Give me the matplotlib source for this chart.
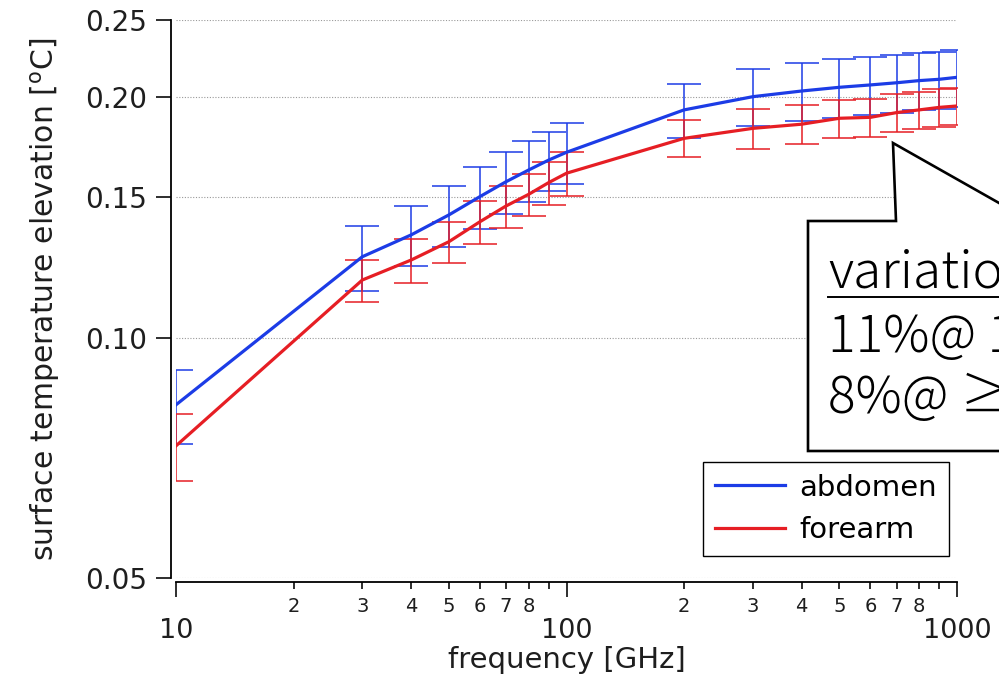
import matplotlib.pyplot as plt
from matplotlib.patches import Polygon
from matplotlib.lines import Line2D

# frequency points [GHz]
freq = [10, 30, 40, 50, 60, 70, 80, 90, 100,
        200, 300, 400, 500, 600, 700, 800, 900, 1000]

# surface temperature elevation [degC] and error bars
abdomen = [0.0824, 0.1263, 0.1345, 0.1425, 0.1502, 0.1568, 0.1622, 0.1669, 0.1707,
           0.1929, 0.2004, 0.2037, 0.2059, 0.2073, 0.2086, 0.2099, 0.2107, 0.2119]
abdomen_err = [0.0088, 0.0118, 0.0117, 0.0125, 0.0132, 0.0138, 0.0142, 0.0143, 0.0149,
               0.0150, 0.0165, 0.0169, 0.0173, 0.0172, 0.0173, 0.0173, 0.0175, 0.0174]
forearm = [0.0732, 0.1181, 0.1251, 0.1319, 0.1397, 0.1462, 0.1512, 0.1564, 0.1607,
           0.1777, 0.1829, 0.1851, 0.1883, 0.1888, 0.1914, 0.1929, 0.1943, 0.1951]
forearm_err = [0.0070, 0.0071, 0.0079, 0.0079, 0.0085, 0.0088, 0.0091, 0.0097, 0.0102,
               0.0095, 0.0104, 0.0105, 0.0102, 0.0104, 0.0105, 0.0105, 0.0105, 0.0103]

y_ticks = [0.05, 0.10, 0.15, 0.20, 0.25]
y_labels = ['0.05', '0.10', '0.15', '0.20', '0.25']
x_major = [10, 100, 1000]
x_major_labels = ['10', '100', '1000']
x_minor = [20, 30, 40, 50, 60, 70, 80, 90, 200, 300, 400, 500, 600, 700, 800, 900]
x_minor_labels = ['2', '3', '4', '5', '6', '7', '8', '',
                  '2', '3', '4', '5', '6', '7', '8', '']

blue = '#1c3ce6'
red = '#e61e24'
txt = '#1e1e1e'

W, H = 999, 681
fig = plt.figure(figsize=(W / 100, H / 100), dpi=100)
ax = fig.add_axes([176 / W, 1 - 578 / H, 781 / W, 558 / H])

# lines
ax.plot(freq, abdomen, color=blue, lw=2.3, label='abdomen', zorder=3)
ax.plot(freq, forearm, color=red, lw=2.3, label='forearm', zorder=3)
ax.errorbar(freq, abdomen, yerr=abdomen_err, fmt='none', ecolor=blue,
            elinewidth=1.1, capsize=12, capthick=1.1, zorder=2)
ax.errorbar(freq, forearm, yerr=forearm_err, fmt='none', ecolor=red,
            elinewidth=1.1, capsize=12, capthick=1.1, zorder=2)

ax.set_xscale('log')
ax.set_yscale('log')
ax.set_xlim(10, 1000)
ax.set_ylim(0.05, 0.25)

ax.set_yticks(y_ticks)
ax.set_yticklabels(y_labels)
ax.yaxis.set_minor_locator(plt.NullLocator())
ax.set_xticks(x_major)
ax.set_xticklabels(x_major_labels)
ax.set_xticks(x_minor, minor=True)
ax.set_xticklabels(x_minor_labels, minor=True)

for s in ['top', 'right']:
    ax.spines[s].set_visible(False)
ax.spines['left'].set_position(('outward', 3.6))
ax.spines['bottom'].set_position(('outward', 2.9))
ax.spines['left'].set_linewidth(1.3)
ax.spines['bottom'].set_linewidth(1.3)

ax.tick_params(axis='y', which='major', length=11, width=1.3, pad=6,
               labelsize=20, colors=txt)
ax.tick_params(axis='x', which='major', length=11, width=1.3, pad=15,
               labelsize=19.5, colors=txt)
ax.tick_params(axis='x', which='minor', length=5, width=1.3, pad=6,
               labelsize=14, colors=txt)

ax.yaxis.grid(True, which='major', linestyle=(0, (1, 1.5)), color='#999999', lw=0.8)
ax.set_axisbelow(True)

ax.set_xlabel('frequency [GHz]', fontsize=21, labelpad=1, color=txt)
ax.set_ylabel('surface temperature elevation [$^{\\rm o}$C]', fontsize=21.5,
              labelpad=17, color=txt)

leg = ax.legend(loc='upper left', bbox_to_anchor=(0.675, 0.208), borderaxespad=0,
                fontsize=21, handlelength=2.4, handletextpad=0.5, borderpad=0.4,
                labelspacing=0.5, fancybox=False, framealpha=1, edgecolor='black')
leg.get_frame().set_linewidth(1.0)

# callout box (partly outside the figure)
pts = [(808, 221), (896, 221), (893, 143), (1045, 229), (1045, 451), (808, 451)]
callout = Polygon([(x / W, 1 - y / H) for x, y in pts], closed=True,
                  transform=fig.transFigure, facecolor='white', edgecolor='black',
                  lw=1.9, zorder=5)
fig.patches.append(callout)

cjk = ['Noto Sans CJK JP', 'DejaVu Sans']
fig.text(828 / W, 1 - 288 / H, 'variation', fontsize=37, family=cjk,
         va='baseline', ha='left', zorder=6, fontweight='light')
fig.add_artist(Line2D([828 / W, 1.02], [1 - 297 / H, 1 - 297 / H],
                      transform=fig.transFigure, color='black', lw=1.4, zorder=6))
fig.text(828 / W, 1 - 352 / H, '11%@ 10 GHz', fontsize=37, family=cjk,
         va='baseline', ha='left', zorder=6, fontweight='light')
fig.text(828 / W, 1 - 413 / H, '8%@ ≥30 GHz', fontsize=37, family=cjk,
         va='baseline', ha='left', zorder=6, fontweight='light')

fig.savefig('out.png', dpi=100)
